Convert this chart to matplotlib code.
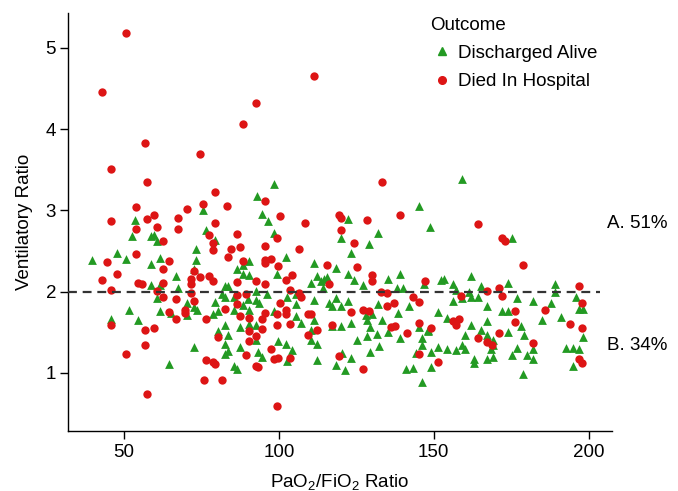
import matplotlib
matplotlib.use("Agg")
import matplotlib.pyplot as plt
from matplotlib.lines import Line2D

plt.rcParams['font.family'] = ['Liberation Sans', 'DejaVu Sans']
plt.rcParams['mathtext.fontset'] = 'custom'
plt.rcParams['mathtext.rm'] = 'Liberation Sans'
plt.rcParams['mathtext.it'] = 'Liberation Sans:italic'

# ---- data: Discharged Alive (green triangles) ----
alive_x = [93.1, 75.6,
           53.6, 52.7, 58.7, 59.7, 60.6, 76.5, 79.5, 73.4, 47.7, 50.7, 39.8, 61.6, 58.7, 73.4, 90.5, 86.5, 88.5, 90.4,
           88.4, 66.7, 72.6, 58.7, 61.6, 67.5, 82.5, 83.5, 81.5, 82.5, 92.5, 92.5, 60.7, 70.5, 72.6, 79.5, 85.5, 85.5,
           88.5, 90.4, 78.6, 80.5, 61.6, 51.7, 65.2, 70.4, 73.5, 45.8, 54.7, 82.5, 87.4, 90.4, 80.5, 83.5, 92.5, 82.5,
           87.4, 72.7, 83.5, 82.5, 64.6, 85.5, 86.5, 92.5,
           98.5, 94.4, 96.5, 98.5, 122.3, 120.2, 123.2, 129.1, 132.1, 145.1, 148.7, 102.3, 99.4, 111.4, 112.4, 110.3,
           113.5, 114.6, 115.5, 118.4, 114.4, 122.3, 124.3, 127.3, 135.3, 139.1, 138.1, 140.2, 146.9, 96.1, 105.4,
           102.6, 111.4, 116.2, 118.4, 120.2, 122.3, 117.3, 132.1, 142.1, 105.4, 93.6, 90.1, 98.5, 105.4, 107.3,
           111.4, 110.3, 117.3, 120.2, 123.2, 128.1, 130.2, 128.5, 129.4, 133.4, 138.3, 135.1, 139.2, 145.3, 148.0,
           146.3, 146.1, 144.2, 125.3, 128.4, 131.6, 132.4, 129.4, 123.2, 120.5, 118.4, 121.3, 112.4, 110.3, 112.4,
           141.0, 143.3, 146.1, 104.4, 102.3, 99.6, 102.6, 93.3, 94.7,
           159.0, 175.1, 152.3, 153.3, 162.1, 156.1, 157.3, 165.2, 174.0, 161.2, 161.9, 164.1, 159.1, 156.1, 176.9,
           181.9, 189.0, 187.9, 189.0, 195.8, 197.0, 198.1, 167.1, 172.0, 174.0, 151.2, 154.1, 178.1, 184.9, 191.0,
           167.1, 162.1, 160.0, 165.2, 167.3, 174.0, 179.1, 198.1, 169.2, 169.2, 168.5, 159.1, 160.0, 157.2, 154.2,
           151.2, 149.0, 148.2, 176.9, 175.1, 180.2, 181.9, 181.9, 169.2, 167.1, 163.0, 163.0, 192.7, 195.0, 196.9,
           194.8, 178.9, 149.2]
alive_y = [3.18, 3.01,
           2.88, 2.69, 2.69, 2.70, 2.63, 2.76, 2.64, 2.52, 2.48, 2.40, 2.39, 2.42, 2.34, 2.39, 2.38, 2.28, 2.33, 2.21,
           2.22, 2.19, 2.28, 2.08, 2.08, 2.05, 2.07, 2.07, 1.97, 1.93, 2.01, 1.90, 1.92, 1.86, 1.81, 1.87, 1.93, 1.77,
           1.84, 1.77, 1.73, 1.76, 1.76, 1.77, 1.74, 1.71, 1.77, 1.66, 1.65, 1.59, 1.56, 1.60, 1.52, 1.47, 1.59, 1.36,
           1.32, 1.32, 1.27, 1.23, 1.11, 1.08, 1.05, 1.41,
           3.33, 2.96, 2.87, 2.72, 2.90, 2.66, 2.48, 2.59, 2.72, 3.05, 2.80, 2.43, 2.22, 2.35, 2.19, 2.11,
           2.13, 2.16, 2.18, 2.29, 2.04, 2.22, 2.15, 2.08, 2.16, 2.22, 2.05, 2.05, 2.09, 1.97, 1.97,
           1.94, 1.90, 1.86, 1.92, 1.82, 1.89, 1.82, 1.85, 1.82, 1.85, 1.86, 1.91, 1.76, 1.70, 1.61,
           1.65, 1.53, 1.58, 1.58, 1.61, 1.71, 1.73, 1.65, 1.57, 1.65, 1.74, 1.50, 1.43, 1.56, 1.53,
           1.43, 1.35, 1.25, 1.41, 1.46, 1.48, 1.33, 1.26, 1.19, 1.24, 1.10, 1.04, 1.16, 1.41, 1.36,
           1.05, 1.06, 0.89, 1.28, 1.36, 1.39, 1.15, 1.26, 1.20,
           3.39, 2.66, 2.14, 2.16, 2.19, 2.09, 2.02, 2.07, 2.11, 2.00, 1.94, 1.93, 1.92, 1.89, 1.92,
           1.88, 2.09, 1.86, 2.00, 1.94, 1.79, 1.79, 1.82, 1.76, 1.76, 1.75, 1.68, 1.58, 1.65, 1.69,
           1.64, 1.59, 1.47, 1.53, 1.47, 1.51, 1.47, 1.44, 1.40, 1.35, 1.29, 1.34, 1.29, 1.28, 1.29,
           1.32, 1.26, 1.52, 1.31, 1.22, 1.22, 1.30, 1.17, 1.20, 1.17, 1.17, 1.12, 1.31, 1.31, 1.29,
           1.09, 0.99, 1.07]

# ---- data: Died In Hospital (red circles) ----
died_x = [50.6, 42.8, 92.5, 88.4, 56.7, 74.6, 45.7, 57.6, 79.5, 75.6, 53.8, 83.4, 70.5, 111.4,
          45.8, 57.6, 59.8, 67.5, 53.8, 60.7, 67.5, 79.5, 62.7, 77.6, 78.6, 78.6, 86.5, 84.5, 87.4, 53.8, 83.5,
          44.7, 64.6, 88.5, 62.7, 72.7, 47.7, 42.8, 54.7, 55.7, 62.7, 71.5, 71.5, 74.6, 77.6, 78.6, 86.5, 92.5,
          45.8, 60.7, 71.5, 62.7, 66.7, 72.6, 86.5, 89.5, 86.5, 82.5, 64.6, 66.7, 69.6, 69.6, 76.5, 87.4, 90.4,
          45.8, 56.7, 59.8, 80.5, 90.4, 92.5, 56.7, 90.4, 89.5, 50.7, 76.5, 78.6, 79.5, 92.5, 75.7, 81.5, 57.6,
          133.2, 95.5, 100.4, 108.4, 119.5, 120.2, 128.3, 139.1, 120.2, 99.4, 124.3, 95.5, 106.5, 95.5, 97.4,
          95.5, 99.6, 115.5, 125.3, 130.2, 130.2, 104.4, 102.3, 95.5, 116.3, 147.1, 103.5, 106.5, 107.3, 133.1,
          135.0, 143.2, 145.3, 100.4, 135.0, 137.2, 95.5, 99.4, 102.3, 102.3, 109.4, 110.5, 123.2, 127.3, 129.1,
          94.5, 103.5, 99.4, 117.3, 136.1, 137.4, 145.3, 94.4, 112.4, 109.4, 141.3, 97.4, 103.5, 98.5, 99.6,
          119.5, 145.3, 93.3, 127.3, 99.4,
          164.1, 171.9, 172.9, 178.9, 196.8, 167.1, 171.1, 172.0, 158.9, 197.9, 176.1, 185.8, 156.1, 157.0,
          158.1, 176.1, 149.2, 194.0, 197.9, 171.0, 164.1, 167.1, 168.8, 181.9, 151.2, 197.0, 197.9]
died_y = [5.19, 4.46, 4.32, 4.06, 3.83, 3.69, 3.51, 3.35, 3.23, 3.08, 3.04, 3.05, 3.02, 4.65,
          2.87, 2.90, 2.94, 2.91, 2.77, 2.80, 2.77, 2.84, 2.62, 2.70, 2.60, 2.51, 2.71, 2.53, 2.55, 2.47, 2.43,
          2.36, 2.38, 2.38, 2.28, 2.26, 2.22, 2.15, 2.11, 2.10, 2.11, 2.16, 2.10, 2.18, 2.19, 2.13, 2.12, 2.13,
          2.02, 2.01, 1.99, 1.93, 1.91, 1.88, 1.96, 1.97, 1.85, 1.79, 1.75, 1.67, 1.78, 1.74, 1.67, 1.70, 1.68,
          1.59, 1.53, 1.55, 1.44, 1.52, 1.46, 1.35, 1.39, 1.22, 1.23, 1.16, 1.14, 1.11, 1.08, 0.91, 0.91, 0.74,
          3.35, 3.12, 2.93, 2.84, 2.95, 2.91, 2.88, 2.94, 2.76, 2.66, 2.60, 2.56, 2.53, 2.39, 2.40,
          2.35, 2.32, 2.33, 2.30, 2.21, 2.13, 2.21, 2.15, 2.10, 2.09, 2.13, 2.02, 1.99, 1.94, 2.00,
          1.99, 1.94, 1.87, 1.86, 1.82, 1.86, 1.74, 1.73, 1.77, 1.72, 1.72, 1.72, 1.75, 1.77, 1.76,
          1.67, 1.60, 1.59, 1.59, 1.57, 1.58, 1.61, 1.54, 1.53, 1.47, 1.49, 1.29, 1.19, 1.17, 1.19,
          1.21, 1.23, 1.07, 1.05, 0.59,
          2.83, 2.66, 2.62, 2.33, 2.07, 2.01, 2.04, 1.95, 1.95, 1.86, 1.76, 1.78, 1.64, 1.59,
          1.66, 1.63, 1.55, 1.60, 1.55, 1.49, 1.43, 1.38, 1.34, 1.37, 1.13, 1.17, 1.12]

x_ticks = [50, 100, 150, 200]
y_ticks = [1, 2, 3, 4, 5]
threshold = 2.0
annotations = ["A. 51%", "B. 34%"]

GREEN = '#239a23'
RED = '#dd1515'
FS = 13.5

fig = plt.figure(figsize=(6.78, 4.91), dpi=100)
ax = fig.add_axes([68/678, 60/491, 544/678, 418/491])

ax.scatter(alive_x, alive_y, marker='^', s=40, color=GREEN, linewidths=0, zorder=3)
ax.scatter(died_x, died_y, marker='o', s=36, color=RED, linewidths=0, zorder=4)

ax.plot([31.96, 203.6], [threshold, threshold], linestyle=(0, (4, 2.6)), color='#333333',
        linewidth=1.6, zorder=5)

ax.set_xlim(31.96, 207.5)
ax.set_ylim(0.286, 5.43)
ax.set_xticks(x_ticks)
ax.set_yticks(y_ticks)
for s in ['top', 'right']:
    ax.spines[s].set_visible(False)
for s in ['left', 'bottom']:
    ax.spines[s].set_linewidth(1.0)
ax.tick_params(axis='both', length=5.5, width=1.0, labelsize=FS, colors='black', pad=3)
ax.tick_params(axis='x', pad=4)

ax.set_ylabel('Ventilatory Ratio', fontsize=FS, labelpad=9)
ax.set_xlabel(r'PaO$_2$/FiO$_2$ Ratio', fontsize=FS, labelpad=8)

fig.text(607/678, 1 - 224/491, annotations[0], fontsize=FS, va='center', ha='left')
fig.text(607/678, 1 - 345/491, annotations[1], fontsize=FS, va='center', ha='left')

handles = [Line2D([], [], marker='^', linestyle='none', color=GREEN, markersize=5.5),
           Line2D([], [], marker='o', linestyle='none', color=RED, markersize=5.5)]
leg = ax.legend(handles, ['Discharged Alive', 'Died In Hospital'], title='Outcome',
                loc='upper left', bbox_to_anchor=(423/678, 1 - 9/491), bbox_transform=fig.transFigure,
                frameon=False, fontsize=FS, title_fontsize=FS, alignment='left',
                handletextpad=0.25, handlelength=1.2, labelspacing=0.6, borderaxespad=0)

fig.savefig('out.png', dpi=100)
